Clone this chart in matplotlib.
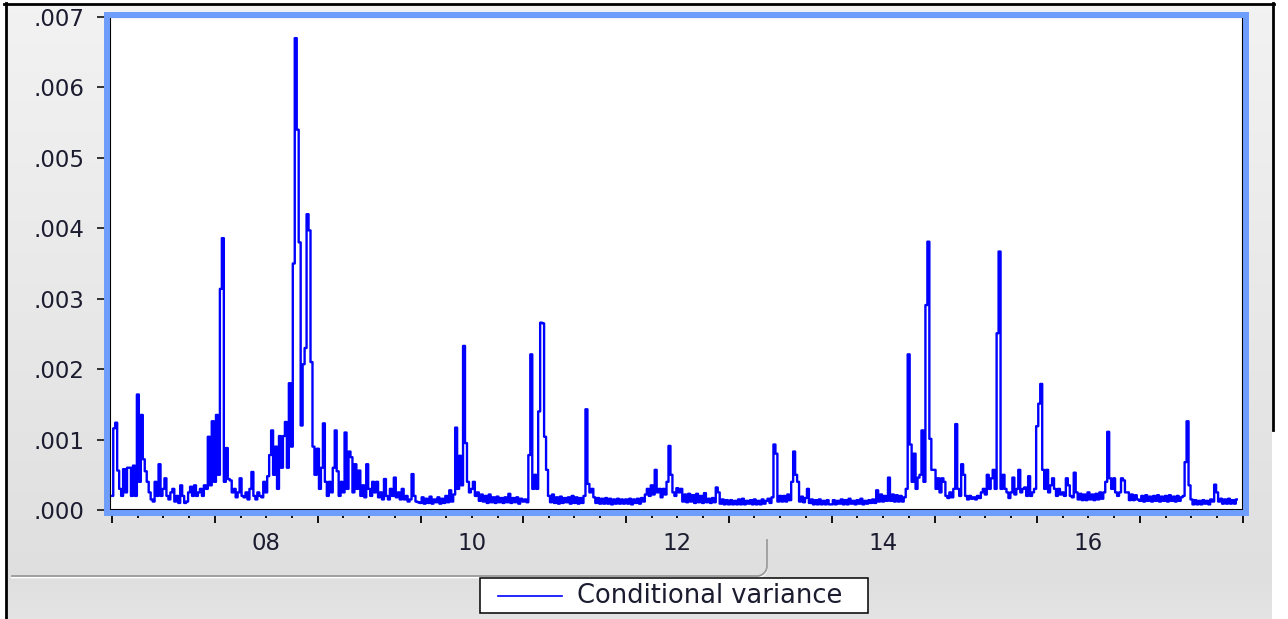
import numpy as np
import pandas as pd
import matplotlib
matplotlib.use('Agg')
import matplotlib.pyplot as plt
import matplotlib.dates as mdates
from matplotlib.patches import Rectangle
from matplotlib.lines import Line2D
from matplotlib.ticker import FuncFormatter, MultipleLocator, NullFormatter

W, H = 1288, 619

# weekly conditional variance, units of 1e-4
cv07 = [2, 11.6, 12.4, 5.6, 3, 2, 5.8, 2.5, 6, 6, 2, 6.3, 2, 16.4, 4, 13.5, 7.2, 5.5, 4, 2.5,
        1.5, 1.2, 4, 2, 6.5, 2, 3, 4.5, 2, 1.5, 2.5, 3, 1.2, 2, 1, 3.5, 2, 1, 1.2, 2.5,
        3.3, 2, 3.5, 2, 2.5, 3, 2, 3.5, 3, 10.4, 3.5, 12.6]
cv08 = [4, 13.5, 5, 31.4, 38.6, 4, 8.8, 4.4, 4.2, 2.5, 3, 1.8, 2.5, 4.5, 2, 1.8, 2.5, 1.5, 3, 5.4,
        2, 1.5, 2.5, 2, 1.8, 4, 2.5, 4.8, 7.8, 11.3, 5, 9, 3, 10.5, 6, 10.5, 12.5, 6, 18, 9,
        35, 67, 54, 38, 12, 20.7, 23, 42, 39.7, 21, 9, 5]
cv09 = [8.7, 3, 6, 12.3, 4, 2, 4, 2.5, 6, 11.3, 5.5, 2, 4, 2.5, 11, 3, 8.3, 7.5, 2.5, 6.5,
        3, 5.6, 2, 3.5, 1.8, 6.5, 3, 2, 4, 2.5, 4, 1.8, 2.5, 1.5, 4.4, 2, 1.5, 3, 2, 4.6,
        1.8, 2.5, 1.5, 3, 1.5, 2, 1.2, 1.5, 5.1, 2, 1.2, 1.1]
cv10 = [1.0, 1.8, 0.9, 1.6, 1.0, 1.9, 0.9, 1.5, 1.1, 1.8, 0.9, 1.6, 1.0, 2.0, 1.1, 2.8, 1.2, 2.2, 11.7, 3,
        7.7, 3.5, 23.3, 9.5, 4, 2.5, 3, 4, 2, 2.5, 1.3, 2.2, 1.2, 2, 1.0, 2.2, 1.1, 1.8, 1.0, 1.9,
        1.1, 1.7, 1.0, 1.8, 1.1, 2.3, 1.0, 1.7, 1.1, 1.8, 0.9, 1.6]
cv11 = [1.2, 1.5, 1.1, 7.8, 22.1, 3, 5, 3, 14, 26.6, 26.5, 10.4, 5.7, 2, 1.1, 2.2, 1.0, 1.8, 0.9, 1.9,
        1.0, 1.7, 1.1, 1.8, 0.9, 2, 1.0, 1.8, 0.9, 1.7, 1.0, 2, 14.3, 3.7, 2.5, 3, 1.8, 1.0, 1.7, 0.9,
        1.6, 0.9, 1.7, 0.9, 1.6, 0.8, 1.5, 0.9, 1.6, 0.9, 1.5, 0.9]
cv12 = [1.5, 0.9, 1.6, 0.8, 1.5, 1.0, 1.6, 0.9, 1.7, 1.2, 2.2, 3, 2, 3.5, 2.2, 5.7, 2.5, 3, 1.8, 3,
        2.2, 4, 9.1, 5, 2.5, 2, 3.1, 2.5, 3, 1.2, 2.2, 1.1, 2.3, 1.2, 2.1, 1.0, 2.3, 1.1, 2, 1.0,
        2.4, 1.1, 1.6, 1.0, 1.7, 1.1, 3.2, 2.5, 0.9, 1.5, 0.8, 1.4]
cv13 = [0.8, 1.4, 0.8, 1.3, 0.8, 1.5, 0.8, 1.6, 0.8, 1.3, 0.9, 1.4, 0.8, 1.5, 0.8, 1.3, 0.8, 1.5, 0.9, 1.3,
        1.6, 1.0, 1.8, 9.3, 8, 1.2, 2.0, 1.2, 2.0, 1.2, 2.2, 1.4, 4, 8.3, 5, 4, 1.2, 1.9, 1.1, 1.7,
        3, 1.0, 1.5, 0.8, 1.4, 0.8, 1.5, 0.8, 1.3, 0.8, 1.4, 0.8]
cv14 = [0.8, 1.4, 0.8, 1.3, 0.9, 1.5, 0.8, 1.4, 0.8, 1.6, 0.9, 1.3, 0.8, 1.4, 0.9, 1.6, 0.8, 1.3, 0.9, 1.4,
        1.0, 1.5, 1.0, 2.8, 1.2, 2.2, 1.2, 2, 1.3, 4.6, 1.3, 2.2, 1.2, 2.1, 1.2, 2.0, 1.2, 1.8, 3, 22.1,
        9.3, 4, 8, 3, 4.6, 5, 11.3, 4, 29.1, 38.1, 10.1, 5.7]
cv15 = [5.7, 3, 4.5, 2.5, 4.5, 4, 2, 1.7, 2.5, 1.8, 3, 12.2, 3, 2, 6.5, 5, 2, 1.5, 2, 1.6,
        1.8, 1.5, 2, 1.7, 2.5, 3, 2.2, 5, 3, 4.5, 5.7, 3, 25.1, 36.7, 3, 5, 3, 2.5, 1.7, 2.5,
        4.6, 2.2, 3, 5.7, 2.5, 3, 3.2, 2, 4.8, 2, 2.5, 3]
cv16 = [11.9, 15.1, 17.9, 5.7, 3, 5.7, 2.5, 3.5, 4.5, 3, 2, 3, 2.2, 2.5, 2, 4.5, 3.5, 2, 1.8, 5.3,
        2.5, 1.5, 2.3, 1.4, 2.2, 1.4, 2.5, 1.5, 2.2, 1.4, 2.3, 1.5, 2.5, 1.6, 2.5, 4, 11.1, 4.5, 3, 4.5,
        2.5, 2, 2.5, 4.5, 4.2, 2.5, 2.5, 1.4, 2.2, 1.4, 2.1, 1.5]
cv17 = [1.3, 2.0, 1.2, 2.1, 1.3, 1.9, 1.2, 2.0, 1.3, 2.1, 1.2, 1.9, 1.3, 2.0, 1.2, 2.1, 1.3, 1.9, 1.2, 2.0,
        1.3, 1.8, 2, 6.8, 12.6, 3.5, 1.5, 0.8, 1.4, 0.8, 1.3, 0.8, 1.4, 0.9, 1.3, 0.8, 1.5, 1.2, 3.6, 2.5,
        1.2, 1.6, 0.9, 1.5, 0.9, 1.6, 0.9, 1.4, 0.9, 1.5]

years = list(range(2007, 2018))
series = [cv07, cv08, cv09, cv10, cv11, cv12, cv13, cv14, cv15, cv16, cv17]
label_years = [2008, 2010, 2012, 2014, 2016]
legend_label = 'Conditional variance'

dates = pd.DatetimeIndex(np.concatenate(
    [pd.date_range(f'{y}-01-01', periods=len(v), freq='7D').values for y, v in zip(years, series)]))
values = np.concatenate([np.asarray(v, float) for v in series]) * 1e-4


def fx(px):
    return px / W


def fy(py):
    return 1 - py / H


fig = plt.figure(figsize=(W / 100, H / 100), dpi=100)
fig.patch.set_facecolor('white')

# grey window background
bg = fig.add_axes([fx(7), 0, fx(1272) - fx(7), fy(4)], zorder=-10)
rows = np.arange(4, H)
shade = np.where(rows < 577, 0.95 - (rows - 4) / (577 - 4) * 0.075,
                 0.875 + (rows - 577) / (H - 577) * 0.02)
img = np.repeat(shade[:, None, None], 3, axis=2)
bg.imshow(img, aspect='auto', extent=(0, 1, 0, 1), interpolation='bilinear')
bg.axis('off')

# main plot
ax = fig.add_axes([fx(110), fy(510), fx(1243) - fx(110), (510 - 17) / H])
ax.plot(dates, values, color='#0000ff', lw=1.7, drawstyle='steps-mid')
ax.set_ylim(0, 0.007)
ax.set_xlim(pd.Timestamp('2006-12-24'), pd.Timestamp('2018-01-01'))
ax.yaxis.set_major_locator(MultipleLocator(0.001))
ax.yaxis.set_major_formatter(FuncFormatter(lambda v, p: f'{v:.3f}'[1:]))
ax.xaxis.set_major_locator(mdates.YearLocator())
ax.xaxis.set_minor_locator(mdates.MonthLocator(bymonth=[4, 7, 10]))
ax.xaxis.set_major_formatter(NullFormatter())
for s in ax.spines.values():
    s.set_linewidth(1.5)
tc = '#1c1c30'
ax.tick_params(axis='y', length=9.4, width=1.1, pad=9, labelsize=16.5, labelcolor=tc)
ax.tick_params(axis='x', which='major', length=9.4, width=1.3)
ax.tick_params(axis='x', which='minor', length=5.5, width=1.3)
for y in label_years:
    ax.annotate(f'{y % 100:02d}', xy=(pd.Timestamp(f'{y}-07-01'), 0),
                xycoords=('data', 'axes fraction'), xytext=(0, -16),
                textcoords='offset points', ha='center', va='top',
                fontsize=16.5, color=tc)

# light blue frame around the plot
fig.add_artist(Rectangle((fx(106.8), fy(513)), fx(1246.5) - fx(106.8), fy(14.5) - fy(513),
                         transform=fig.transFigure, fill=False, edgecolor='#6f9dfc', lw=4.3, zorder=3))

# separator of the lower panel
t = np.linspace(0, np.pi / 2, 12)
sx = np.concatenate([[12], 757 + 10 * np.sin(t), [767]])
sy = np.concatenate([[576], 566 + 10 * np.cos(t), [540]])
fig.add_artist(Line2D(fx(sx), fy(sy + 1.5), color='white', lw=1.2, transform=fig.transFigure))
fig.add_artist(Line2D(fx(sx), fy(sy), color='#9a9a9a', lw=1.3, transform=fig.transFigure))

# legend
fig.add_artist(Rectangle((fx(480), fy(613)), fx(868) - fx(480), fy(578) - fy(613),
                         transform=fig.transFigure, facecolor='white', edgecolor='black', lw=1.1, zorder=4))
fig.add_artist(Line2D([fx(498), fx(562)], [fy(596), fy(596)], color='#0000ff', lw=1.2,
                      transform=fig.transFigure, zorder=5))
fig.text(fx(577), fy(596), legend_label, va='center', ha='left', fontsize=18.5, color=tc, zorder=5)

# window border
fig.add_artist(Line2D([fx(5.5), fx(5.5)], [fy(3), 0], color='black', lw=2, transform=fig.transFigure))
fig.add_artist(Line2D([fx(4), fx(1274)], [fy(3.5), fy(3.5)], color='black', lw=2, transform=fig.transFigure))
fig.add_artist(Line2D([fx(1273), fx(1273)], [fy(3), fy(430)], color='black', lw=2, transform=fig.transFigure))

fig.savefig('out.png', dpi=100)
